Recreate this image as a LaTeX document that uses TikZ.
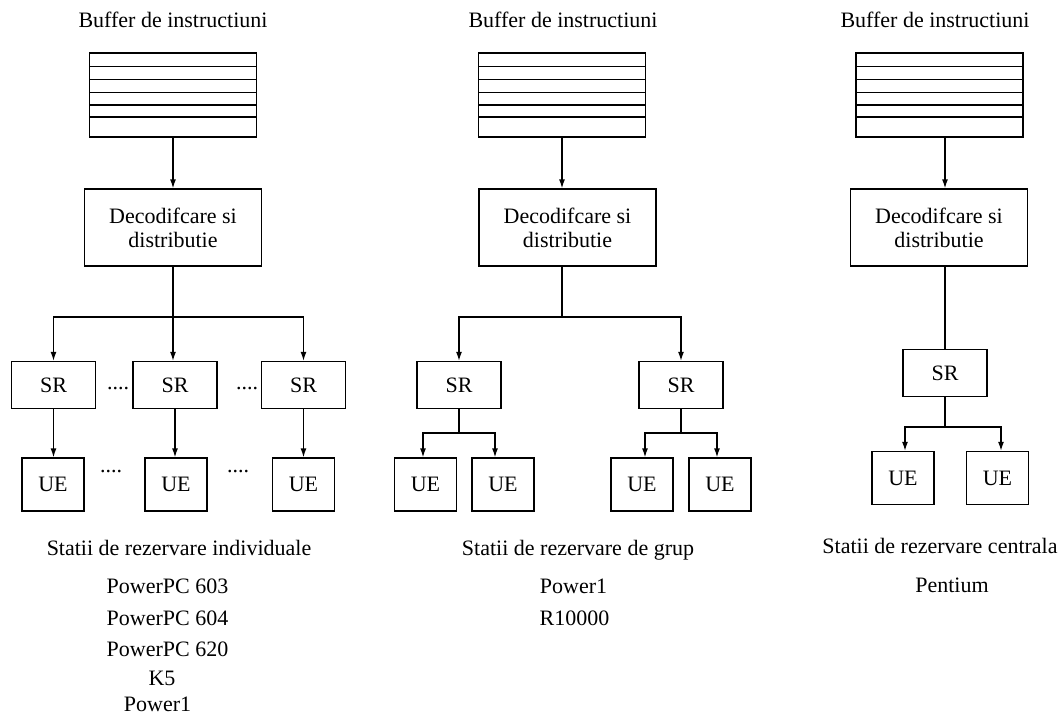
\documentclass[tikz,border=0pt]{standalone}
\usepackage{fontspec}
\setmainfont{Liberation Serif}
\usetikzlibrary{arrows.meta}
\begin{document}
\begin{tikzpicture}[x=1pt,y=-1pt,line width=1.3pt,
  every node/.style={font=\fontsize{22}{24}\selectfont},
  box/.style={draw,rectangle,inner sep=0pt,align=center},
  buf/.style={draw,rectangle,inner sep=0pt,outer sep=0pt,minimum width=167pt,minimum height=84pt},
  dec/.style={box,minimum width=177pt,minimum height=77pt},
  srbox/.style={box,minimum width=84pt,minimum height=47pt},
  uebox/.style={box,minimum width=62pt,minimum height=53pt},
  arr/.style={-{Latex[length=9pt,width=6pt]}},
  lbl/.style={inner sep=0pt,anchor=base}]
\useasboundingbox (0,0) rectangle (1060,717);
\fill[white] (0,0) rectangle (1060,717);

% ---------------- Panel 1 ----------------
\node[lbl] (t1) at (173,28) {Buffer de instructiuni};
\node[buf] (b1) at (173,95) {};
\foreach \k in {13.4,26.7,39.4,52,64} \draw (b1.north west) ++(0,\k) -- ++(167,0);
\node[dec] (d1) at (173,227.5) {Decodifcare si\\distributie};
\draw[arr] (b1.south) -- (d1.north);
\coordinate (j1) at (173,317);
\draw (d1.south) -- (j1);
\node[srbox] (s1a) at (53.5,385) {SR};
\node[srbox] (s1b) at (175,385) {SR};
\node[srbox] (s1c) at (303.5,385) {SR};
\draw[arr] (j1) -| (s1a.north);
\draw[arr] (j1) -- (j1 |- s1b.north);
\draw[arr] (j1) -| (s1c.north);
\node[uebox] (u1a) at (53,484.5) {UE};
\node[uebox] (u1b) at (176,484.5) {UE};
\node[uebox] (u1c) at (303.5,484.5) {UE};
\draw[arr] (s1a.south) -- (s1a.south |- u1a.north);
\draw[arr] (s1b.south) -- (s1b.south |- u1b.north);
\draw[arr] (s1c.south) -- (s1c.south |- u1c.north);
\node[lbl] (p1a) at (118,389) {....};
\node[lbl] (p1b) at (247,389) {....};
\node[lbl] (p1c) at (111,472) {....};
\node[lbl] (p1d) at (238,472) {....};
\node[lbl] (c1) at (179,555) {Statii de rezervare individuale};
\node[lbl] (m1a) at (167.5,593) {PowerPC 603};
\node[lbl] (m1b) at (167.5,625) {PowerPC 604};
\node[lbl] (m1c) at (167.5,656) {PowerPC 620};
\node[lbl] (m1d) at (162,685) {K5};
\node[lbl] (m1e) at (157.5,711) {Power1};

% ---------------- Panel 2 ----------------
\node[lbl] (t2) at (563,28) {Buffer de instructiuni};
\node[buf] (b2) at (562,95) {};
\foreach \k in {13.4,26.7,39.4,52,64} \draw (b2.north west) ++(0,\k) -- ++(167,0);
\node[dec] (d2) at (567.5,227.5) {Decodifcare si\\distributie};
\draw[arr] (b2.south) -- (b2.south |- d2.north);
\coordinate (j2) at (562,317);
\draw (b2.south |- d2.south) -- (j2);
\node[srbox] (s2a) at (459,385) {SR};
\node[srbox] (s2b) at (681,385) {SR};
\draw[arr] (j2) -| (s2a.north);
\draw[arr] (j2) -| (s2b.north);
\node[uebox] (u2a1) at (425.5,484.5) {UE};
\node[uebox] (u2a2) at (503,484.5) {UE};
\node[uebox] (u2b1) at (642,484.5) {UE};
\node[uebox] (u2b2) at (720,484.5) {UE};
\coordinate (k2a) at (459,433);
\coordinate (k2b) at (681,433);
\draw (s2a.south) -- (k2a);
\draw (s2b.south) -- (k2b);
\draw[arr] (k2a) -| ([xshift=-2.5pt]u2a1.north);
\draw[arr] (k2a) -| ([xshift=-8pt]u2a2.north);
\draw[arr] (k2b) -| ([xshift=3pt]u2b1.north);
\draw[arr] (k2b) -| ([xshift=-3pt]u2b2.north);
\node[lbl] (c2) at (578,555) {Statii de rezervare de grup};
\node[lbl] (m2a) at (573.5,593) {Power1};
\node[lbl] (m2b) at (574.5,625) {R10000};

% ---------------- Panel 3 ----------------
\node[lbl] (t3) at (935,28) {Buffer de instructiuni};
\node[buf] (b3) at (939.5,95) {};
\foreach \k in {13.4,26.7,39.4,52,64} \draw (b3.north west) ++(0,\k) -- ++(167,0);
\node[dec] (d3) at (939,227.5) {Decodifcare si\\distributie};
\node[srbox] (s3) at (945,373) {SR};
\draw[arr] ([xshift=5.5pt]b3.south) -- (s3.north |- d3.north);
\draw (s3.north |- d3.south) -- (s3.north);
\node[uebox] (u3a) at (903,478) {UE};
\node[uebox] (u3b) at (997.5,478) {UE};
\coordinate (k3) at (945,427);
\draw (s3.south) -- (k3);
\draw[arr] (k3) -| ([xshift=2pt]u3a.north);
\draw[arr] (k3) -| ([xshift=3.5pt]u3b.north);
\node[lbl] (c3) at (940,553) {Statii de rezervare centrala};
\node[lbl] (m3a) at (952,592) {Pentium};
\end{tikzpicture}
\end{document}
